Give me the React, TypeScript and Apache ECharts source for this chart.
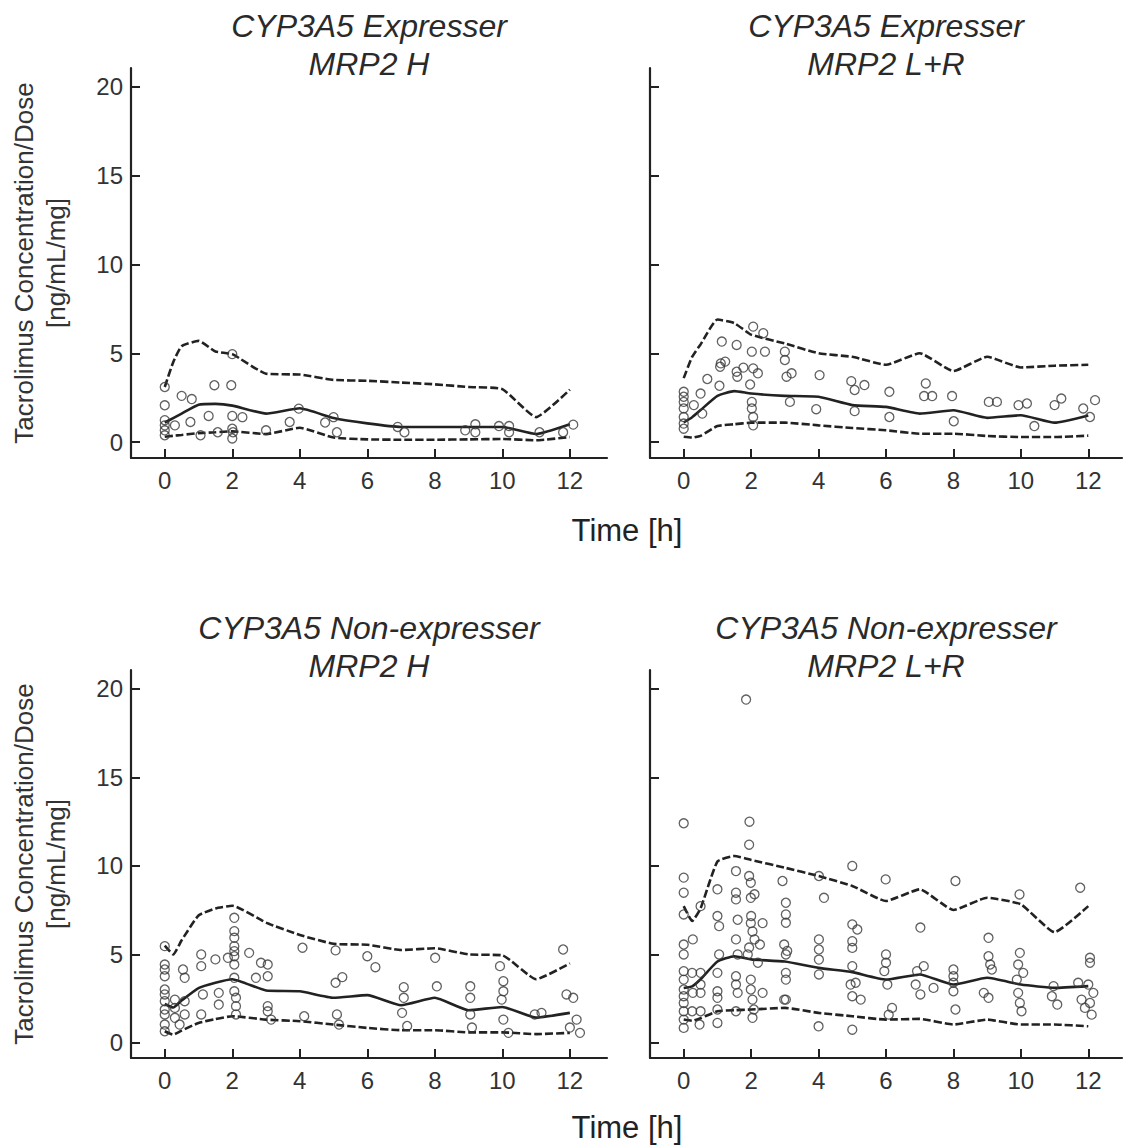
import React, { useEffect, useRef } from "react";
import * as echarts from "echarts";

// Nominal sampling times for percentile lines (h)
const times = [0, 0.25, 0.5, 1, 1.5, 2, 3, 4, 5, 6, 7, 8, 9, 10, 11, 12];
const xTicks = [0, 2, 4, 6, 8, 10, 12];
const yTicks = [0, 5, 10, 15, 20];

const panelTitles = [
  "CYP3A5 Expresser\nMRP2 H",
  "CYP3A5 Expresser\nMRP2 L+R",
  "CYP3A5 Non-expresser\nMRP2 H",
  "CYP3A5 Non-expresser\nMRP2 L+R",
];

// Panel 1: Expresser, MRP2 H
const upper1 = [3.1, 4.5, 5.4, 5.7, 5.1, 4.95, 3.85, 3.8, 3.5, 3.45, 3.35, 3.25, 3.1, 2.98, 1.4, 2.95];
const median1 = [1.1, 1.35, 1.6, 2.1, 2.15, 2.05, 1.6, 1.9, 1.35, 1.05, 0.85, 0.85, 0.85, 0.85, 0.45, 1.0];
const lower1 = [0.3, 0.35, 0.4, 0.5, 0.55, 0.6, 0.45, 0.8, 0.25, 0.15, 0.13, 0.13, 0.15, 0.17, 0.1, 0.28];
const obs1 = [
  [0, 3.1], [0, 2.07], [0, 1.23], [0, 0.94], [0, 0.66], [0, 0.38], [0.3, 0.94], [0.5, 2.6], [0.8, 2.42],
  [0.76, 1.13], [1.06, 0.38], [1.3, 1.47], [1.47, 3.2], [1.57, 0.55], [1.97, 3.2], [2, 4.95], [2, 1.47],
  [2, 0.75], [2.02, 0.55], [2, 0.2], [2.3, 1.4], [3, 0.66], [3.7, 1.13], [3.97, 1.88], [4.75, 1.1],
  [5, 1.4], [5.1, 0.55], [6.9, 0.85], [7.1, 0.55], [8.9, 0.66], [9.2, 1.0], [9.2, 0.55], [9.9, 0.9],
  [10.2, 0.9], [10.2, 0.55], [11.1, 0.55], [11.8, 0.55], [12.1, 0.98],
];

// Panel 2: Expresser, MRP2 L+R
const upper2 = [3.6, 4.8, 5.5, 6.9, 6.7, 6.05, 5.55, 5.0, 4.8, 4.35, 5.0, 4.0, 4.8, 4.2, 4.3, 4.35];
const median2 = [1.1, 1.4, 1.8, 2.6, 2.87, 2.73, 2.6, 2.55, 2.08, 1.98, 1.6, 1.79, 1.36, 1.51, 1.09, 1.5];
const lower2 = [0.3, 0.25, 0.35, 0.9, 1.0, 1.09, 1.09, 0.94, 0.79, 0.66, 0.47, 0.47, 0.34, 0.28, 0.28, 0.36];
const obs2 = [
  [0, 2.83], [0, 2.55], [0, 2.26], [0, 1.89], [0, 1.41], [0, 1.04], [0, 0.75], [0.3, 2.08], [0.5, 2.73],
  [0.55, 1.6], [0.7, 3.55], [1.06, 3.17], [1.08, 4.24], [1.13, 5.66], [1.1, 4.43], [1.23, 4.53],
  [1.57, 5.47], [1.57, 3.96], [1.59, 3.68], [1.77, 4.19], [1.97, 3.24], [2.02, 2.26], [2.02, 1.89],
  [2.06, 4.15], [2.02, 5.09], [2.06, 6.5], [2.36, 6.13], [2.41, 5.09], [2.06, 1.41], [2.06, 0.94],
  [2.2, 3.87], [3.0, 5.09], [3.0, 4.62], [3.05, 3.68], [3.2, 3.87], [3.15, 2.26], [4.03, 3.77],
  [3.93, 1.85], [4.97, 3.43], [5.07, 2.93], [5.36, 3.21], [5.07, 1.74], [6.1, 2.83], [6.1, 1.41],
  [7.18, 3.3], [7.13, 2.59], [7.37, 2.59], [7.96, 2.59], [8.01, 1.17], [9.05, 2.26], [9.29, 2.26],
  [9.93, 2.08], [10.18, 2.17], [10.4, 0.9], [11.0, 2.08], [11.2, 2.45], [11.85, 1.89], [12.2, 2.36],
  [12.05, 1.41],
];

// Panel 3: Non-expresser, MRP2 H
const upper3 = [5.5, 5.0, 5.8, 7.2, 7.6, 7.75, 6.8, 6.1, 5.6, 5.55, 5.25, 5.35, 5.0, 4.95, 3.6, 4.5];
const median3 = [2.2, 2.0, 2.4, 3.1, 3.4, 3.6, 2.96, 2.92, 2.55, 2.7, 2.13, 2.55, 1.85, 2.03, 1.43, 1.7];
const lower3 = [0.66, 0.47, 0.7, 1.13, 1.35, 1.51, 1.32, 1.23, 1.04, 0.85, 0.72, 0.72, 0.6, 0.6, 0.5, 0.57];
const obs3 = [
  [0, 5.47], [0, 4.43], [0, 4.15], [0, 3.77], [0, 3.02], [0, 2.74], [0, 2.36], [0, 1.89], [0, 1.61],
  [0, 1.04], [0, 0.66], [0.3, 2.45], [0.3, 1.98], [0.3, 1.42], [0.44, 1.04], [0.54, 4.15], [0.59, 3.68],
  [0.59, 2.36], [0.59, 1.61], [1.08, 5.0], [1.08, 4.34], [1.13, 2.74], [1.08, 1.61], [1.5, 4.72],
  [1.6, 2.83], [1.6, 2.17], [1.87, 4.81], [2.06, 7.07], [2.06, 6.32], [2.06, 5.94], [2.06, 5.47],
  [2.06, 5.19], [2.06, 4.9], [2.06, 4.43], [2.06, 3.68], [2.06, 2.92], [2.11, 2.55], [2.11, 2.08],
  [2.11, 1.61], [2.5, 5.09], [2.7, 3.68], [2.85, 4.53], [3.05, 4.43], [3.05, 3.77], [3.05, 2.08],
  [3.05, 1.79], [3.15, 1.32], [4.08, 5.38], [4.13, 1.51], [5.06, 5.23], [5.06, 3.4], [5.26, 3.72],
  [5.1, 1.61], [5.16, 1.04], [6.0, 4.9], [6.24, 4.28], [7.08, 3.15], [7.08, 2.55], [7.03, 1.7],
  [7.18, 0.96], [8.01, 4.81], [8.06, 3.2], [9.05, 3.2], [9.05, 2.55], [9.05, 1.61], [9.1, 0.87],
  [9.93, 4.34], [10.03, 3.49], [10.03, 2.92], [9.98, 2.45], [10.03, 1.32], [10.18, 0.57], [10.96, 1.61],
  [11.16, 1.7], [11.8, 5.28], [11.9, 2.74], [12.1, 2.55], [12.2, 1.32], [12.0, 0.87], [12.3, 0.57],
];

// Panel 4: Non-expresser, MRP2 L+R
const upper4 = [7.73, 6.89, 7.6, 10.25, 10.56, 10.34, 9.9, 9.43, 8.87, 8.02, 8.68, 7.51, 8.2, 7.83, 6.26, 7.73];
const median4 = [3.1, 3.2, 3.6, 4.6, 4.9, 4.72, 4.6, 4.24, 4.0, 3.58, 3.87, 3.3, 3.68, 3.3, 3.11, 3.21];
const lower4 = [1.32, 1.25, 1.4, 1.79, 1.85, 1.89, 1.98, 1.7, 1.51, 1.32, 1.36, 1.04, 1.32, 1.04, 1.04, 0.94];
const obs4 = [
  [0, 12.41], [1.95, 12.5], [1.94, 11.2], [1.85, 19.4], [0, 9.34], [0, 8.49], [1.0, 8.68], [1.55, 9.71],
  [1.55, 8.49], [1.55, 8.11], [1.94, 9.43], [1.99, 9.05], [1.99, 8.2], [2.1, 8.4], [2.93, 9.15],
  [4.01, 9.43], [4.16, 8.2], [0, 7.26], [0.5, 7.73], [1.0, 7.17], [1.05, 6.6], [1.6, 6.96], [1.55, 5.85],
  [2.0, 7.17], [1.99, 6.77], [2.04, 6.3], [2.34, 6.77], [2.1, 5.85], [2.26, 5.56], [3.03, 7.92],
  [3.03, 7.26], [3.03, 6.79], [2.98, 5.56], [3.07, 5.2], [4.01, 5.85], [4.01, 5.28], [4.01, 4.71],
  [4.01, 3.87], [0, 5.56], [0.27, 5.85], [0, 5.0], [1.05, 5.0], [1.6, 5.0], [1.9, 5.0], [1.94, 5.39],
  [2.2, 4.53], [3.03, 5.0], [3.03, 3.96], [3.03, 3.58], [3.03, 2.45], [0, 4.06], [0, 3.58], [0, 3.02],
  [0, 2.64], [0, 2.26], [0, 1.79], [0, 1.32], [0, 0.85], [0.25, 3.96], [0.27, 2.83], [0.25, 1.79],
  [0.5, 3.96], [0.5, 3.3], [0.5, 2.83], [0.5, 1.79], [0.47, 1.04], [1.0, 3.96], [1.0, 2.92], [1.0, 2.55],
  [1.0, 1.89], [1.0, 1.13], [1.55, 3.77], [1.55, 3.3], [1.6, 2.83], [1.55, 1.79], [1.99, 3.58],
  [1.99, 3.02], [2.04, 2.45], [2.08, 1.89], [2.04, 1.42], [2.34, 2.83], [2.98, 2.45], [4.0, 0.94],
  [5.0, 10.0], [5.99, 9.24], [8.06, 9.15], [9.96, 8.39], [11.76, 8.77], [5.0, 6.7], [5.15, 6.41],
  [5.0, 5.75], [5.0, 5.37], [5.0, 4.34], [4.95, 3.3], [5.1, 3.4], [5.0, 2.64], [5.25, 2.45], [6.0, 5.0],
  [6.0, 4.53], [5.95, 4.06], [6.04, 3.3], [6.18, 1.98], [6.08, 1.6], [5.0, 0.75], [7.02, 6.52],
  [7.12, 4.34], [6.92, 4.06], [6.88, 3.3], [7.02, 2.74], [7.41, 3.11], [8.0, 4.15], [8.0, 3.77],
  [8.0, 3.4], [8.0, 2.92], [8.06, 1.89], [9.04, 5.94], [9.04, 4.9], [9.09, 4.43], [9.14, 4.15],
  [8.9, 2.83], [9.04, 2.55], [9.97, 5.09], [9.92, 4.43], [10.07, 3.96], [9.88, 3.58], [9.92, 2.83],
  [9.97, 2.26], [10.02, 1.79], [10.97, 3.21], [10.92, 2.64], [11.08, 2.17], [12.05, 4.81], [12.05, 4.53],
  [11.7, 3.4], [12.0, 3.3], [12.15, 2.83], [11.8, 2.45], [12.05, 2.26], [11.9, 1.98], [12.1, 1.6],
];

const panels = [
  { upper: upper1, median: median1, lower: lower1, obs: obs1 },
  { upper: upper2, median: median2, lower: lower2, obs: obs2 },
  { upper: upper3, median: median3, lower: lower3, obs: obs3 },
  { upper: upper4, median: median4, lower: lower4, obs: obs4 },
];

const FONT = '"Liberation Sans", Arial, Helvetica, sans-serif';
const INK = "#222";

export default function App() {
  const ref = useRef<HTMLDivElement>(null);

  useEffect(() => {
    document.body.style.margin = "0";
    if (!ref.current) return;
    const chart = echarts.init(ref.current, undefined, { renderer: "svg" });

    const grids = [
      { left: 131, top: 68, width: 476, height: 390 },
      { left: 650, top: 68, width: 472, height: 390 },
      { left: 131, top: 670, width: 476, height: 388 },
      { left: 650, top: 670, width: 472, height: 388 },
    ];
    const xRanges = [
      [-1.0, 13.1],
      [-1.0, 13.0],
      [-1.0, 13.1],
      [-1.0, 13.0],
    ];
    const yRanges = [
      [-0.9, 21.07],
      [-0.9, 21.07],
      [-0.85, 21.07],
      [-0.85, 21.07],
    ];

    const xAxis = grids.map((_, i) => ({
      type: "value",
      gridIndex: i,
      min: xRanges[i][0],
      max: xRanges[i][1],
      axisLine: { show: true, onZero: false, lineStyle: { color: INK, width: 2.2 } },
      axisTick: { show: true, inside: true, length: 9, customValues: xTicks, lineStyle: { color: INK, width: 2 } },
      axisLabel: { show: true, customValues: xTicks, margin: 10, fontSize: 24, color: "#333", fontFamily: FONT },
      splitLine: { show: false },
    }));

    const yAxis = grids.map((_, i) => ({
      type: "value",
      gridIndex: i,
      min: yRanges[i][0],
      max: yRanges[i][1],
      axisLine: { show: true, onZero: false, lineStyle: { color: INK, width: 2.2 } },
      axisTick: { show: true, inside: true, length: 9, customValues: yTicks, lineStyle: { color: INK, width: 2 } },
      axisLabel: {
        show: i % 2 === 0,
        customValues: yTicks,
        margin: 8,
        fontSize: 24,
        color: "#333",
        fontFamily: FONT,
      },
      splitLine: { show: false },
    }));

    const series: any[] = [];
    panels.forEach((p, i) => {
      const mk = (vals: number[], dashed: boolean) => ({
        type: "line",
        xAxisIndex: i,
        yAxisIndex: i,
        data: times.map((t, k) => [t, vals[k]]),
        symbol: "none",
        smooth: 0.15,
        lineStyle: { color: INK, width: 2.6, type: dashed ? [8, 3] : "solid" },
        z: 2,
      });
      series.push(mk(p.upper, true));
      series.push(mk(p.lower, true));
      series.push(mk(p.median, false));
      series.push({
        type: "scatter",
        xAxisIndex: i,
        yAxisIndex: i,
        data: p.obs,
        symbol: "circle",
        symbolSize: 9,
        itemStyle: { color: "rgba(255,255,255,0)", borderColor: "#3a3a3a", borderWidth: 1.3 },
        z: 3,
      });
    });

    const centers = grids.map((g) => g.left + g.width / 2);
    const titleTops = [7, 7, 609, 609];
    const graphic: any[] = [];
    panelTitles.forEach((t, i) => {
      graphic.push({
        type: "text",
        x: centers[i],
        y: titleTops[i],
        style: {
          text: t,
          textAlign: "center",
          textVerticalAlign: "top",
          font: `italic 32px ${FONT}`,
          lineHeight: 38,
          fill: "#2a2a2a",
        },
      });
    });
    [263, 864].forEach((cy) => {
      graphic.push({
        type: "text",
        x: 40,
        y: cy,
        rotation: Math.PI / 2,
        style: {
          text: "Tacrolimus Concentration/Dose\n[ng/mL/mg]",
          textAlign: "center",
          textVerticalAlign: "middle",
          font: `26px ${FONT}`,
          lineHeight: 32,
          fill: "#333",
        },
      });
    });
    [530, 1127].forEach((cy) => {
      graphic.push({
        type: "text",
        x: 627,
        y: cy,
        style: {
          text: "Time [h]",
          textAlign: "center",
          textVerticalAlign: "middle",
          font: `31px ${FONT}`,
          fill: "#222",
        },
      });
    });

    chart.setOption({
      animation: false,
      backgroundColor: "#fff",
      grid: grids,
      xAxis,
      yAxis,
      series,
      graphic,
    });

    return () => chart.dispose();
  }, []);

  return <div ref={ref} style={{ width: 1126, height: 1147 }} />;
}
